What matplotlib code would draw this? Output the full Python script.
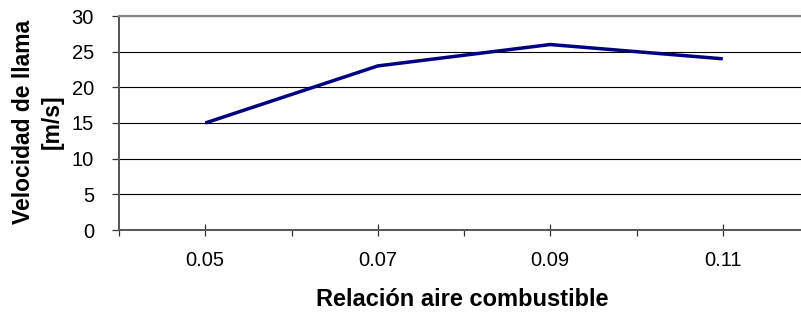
import matplotlib
matplotlib.use("Agg")
import matplotlib.pyplot as plt
import numpy as np

# chart data
ratios = ["0.05", "0.07", "0.09", "0.11"]
velocities = [15, 23, 26, 24]
y_ticks = [0, 5, 10, 15, 20, 25, 30]

plt.rcParams["font.family"] = ["Liberation Sans", "DejaVu Sans"]

fig = plt.figure(figsize=(8.01, 3.16), dpi=100)
ax = fig.add_axes([119 / 801, 86 / 316, 690 / 801, 214 / 316])

x = np.arange(len(ratios))
ax.plot(x, velocities, color="#000080", linewidth=2.5, solid_capstyle="butt", zorder=3)

ax.set_xlim(-0.5, len(ratios) - 0.5)
ax.set_ylim(0, 30)
ax.set_yticks(y_ticks)
ax.set_yticklabels([str(v) for v in y_ticks])
ax.yaxis.grid(True, color="black", linewidth=0.8)
ax.set_axisbelow(True)

# category labels at centres, tick marks between categories
ax.set_xticks(x, minor=True)
ax.set_xticklabels(ratios, minor=True)
ax.set_xticks(np.arange(-0.5, len(ratios), 1.0))
ax.set_xticklabels([])
ax.tick_params(axis="x", which="major", direction="out", length=4.5, width=0.9, color="#333333")
ax.tick_params(axis="x", which="minor", direction="inout", length=8, width=0.9,
               color="#333333", pad=11, labelsize=14.5)
ax.tick_params(axis="y", direction="out", length=5, width=0.9, color="#333333",
               pad=13, labelsize=14.5)

for side in ["left", "bottom"]:
    ax.spines[side].set_color("#555555")
    ax.spines[side].set_linewidth(1.4)
ax.spines["top"].set_color("#888888")
ax.spines["top"].set_linewidth(1.6)
ax.spines["right"].set_visible(False)

ax.set_ylabel("Velocidad de llama\n[m/s]", fontsize=16.5, fontweight="bold", linespacing=1.3)
ax.yaxis.set_label_coords(-0.080, 0.505)
ax.set_xlabel("Relación aire combustible", fontsize=17, fontweight="bold")
ax.xaxis.set_label_coords(0.497, -0.273)

fig.savefig("out.png", dpi=100)
